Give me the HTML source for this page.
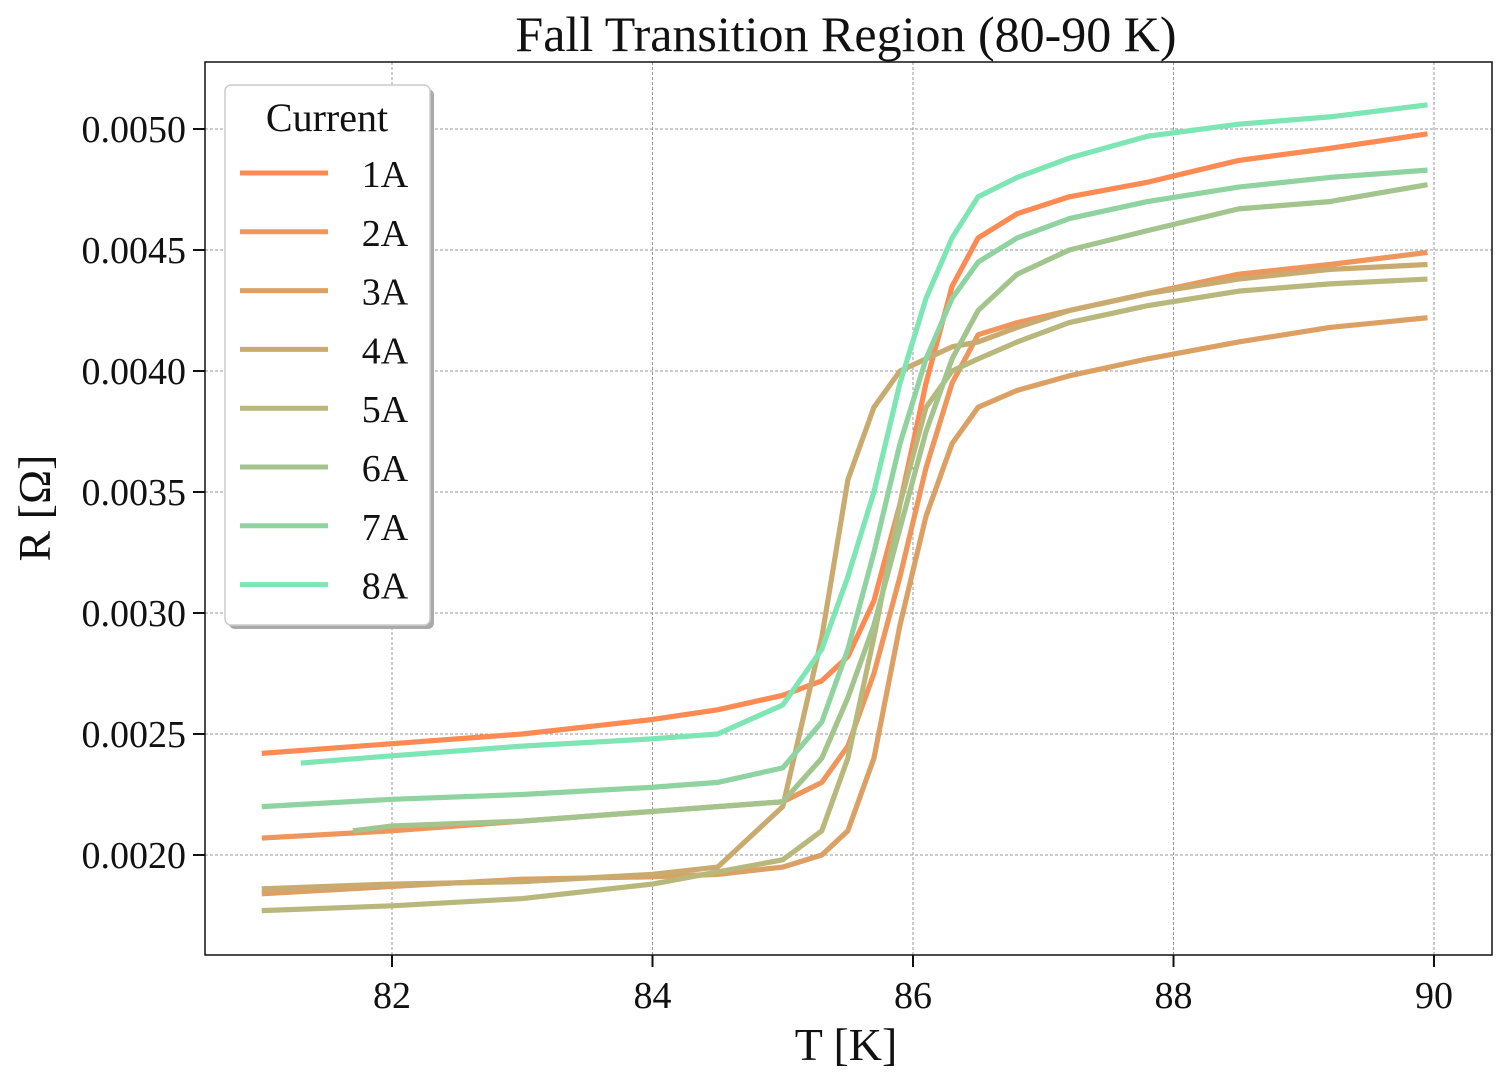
<!DOCTYPE html>
<html><head><meta charset="utf-8"><style>
body{margin:0;background:#fff;}
svg text{font-family:"Liberation Serif",serif;fill:#111;}
</style></head><body>
<svg id="chart" width="1504" height="1079" viewBox="0 0 1504 1079">
</svg>
<script>
const T = [81, 82, 83, 84, 84.5, 85, 85.3, 85.5, 85.7, 85.9, 86.1, 86.3, 86.5, 86.8, 87.2, 87.8, 88.5, 89.2, 89.95];
const seriesNames = ["1A","2A","3A","4A","5A","6A","7A","8A"];
const seriesColors = ["#fc8a52","#ee965c","#dca064","#c9ab70","#b8b87c","#a3c48c","#8fd3a0","#7ee5b4"];
const r1 = [2.42,2.46,2.50,2.56,2.60,2.66,2.72,2.82,3.05,3.45,3.95,4.35,4.55,4.65,4.72,4.78,4.87,4.92,4.98];
const r2 = [2.07,2.10,2.14,2.18,2.20,2.22,2.30,2.45,2.75,3.15,3.60,3.95,4.15,4.20,4.25,4.32,4.40,4.44,4.49];
const r3 = [1.84,1.87,1.90,1.91,1.92,1.95,2.00,2.10,2.40,2.95,3.40,3.70,3.85,3.92,3.98,4.05,4.12,4.18,4.22];
const r4 = [1.86,1.88,1.89,1.92,1.95,2.20,2.90,3.55,3.85,4.00,4.05,4.10,4.12,4.18,4.25,4.32,4.38,4.42,4.44];
const r5 = [1.77,1.79,1.82,1.88,1.93,1.98,2.10,2.40,2.90,3.45,3.85,4.00,4.05,4.12,4.20,4.27,4.33,4.36,4.38];
const r6 = [2.10,2.12,2.14,2.18,2.20,2.22,2.40,2.65,2.95,3.35,3.75,4.05,4.25,4.40,4.50,4.58,4.67,4.70,4.77];
const r7 = [2.20,2.23,2.25,2.28,2.30,2.36,2.55,2.85,3.25,3.70,4.05,4.30,4.45,4.55,4.63,4.70,4.76,4.80,4.83];
const r8 = [2.38,2.41,2.45,2.48,2.50,2.62,2.85,3.15,3.50,3.95,4.30,4.55,4.72,4.80,4.88,4.97,5.02,5.05,5.10];
const seriesStart = [81,81,81,81,81,81.7,81,81.3];
const xTicks = [82,84,86,88,90];
const yTicks = [2.0,2.5,3.0,3.5,4.0,4.5,5.0];
const yTickLabels = ["0.0020","0.0025","0.0030","0.0035","0.0040","0.0045","0.0050"];
const allSeries = [r1,r2,r3,r4,r5,r6,r7,r8];

const NS="http://www.w3.org/2000/svg";
const svg=document.getElementById('chart');
const L=205,R=1492,TOP=62,B=955;
function xs(v){return 392+(v-82)*130.25;}
function ys(v){return 855-(v-2.0)*242;}
function mk(tag,attrs,parent){const e=document.createElementNS(NS,tag);for(const k in attrs)e.setAttribute(k,attrs[k]);(parent||svg).appendChild(e);return e;}

xTicks.forEach(t=>{
  const g=mk('line',{x1:xs(t),x2:xs(t),y1:TOP,y2:B,stroke:'#999','stroke-width':1,'stroke-dasharray':'3,2'});
  
  
  const tk=mk('line',{x1:xs(t),x2:xs(t),y1:B,y2:B+12,stroke:'#111','stroke-width':2});
  
  
  const tx=mk('text',{x:xs(t),y:1008,'text-anchor':'middle','font-size':38});
  tx.textContent=t;
  
  
});
yTicks.forEach((t,i)=>{
  const g=mk('line',{x1:L,x2:R,y1:ys(t),y2:ys(t),stroke:'#999','stroke-width':1,'stroke-dasharray':'3,2'});
  
  
  const tk=mk('line',{x1:L-12,x2:L,y1:ys(t),y2:ys(t),stroke:'#111','stroke-width':2});
  
  
  const tx=mk('text',{x:186,y:ys(t)+13,'text-anchor':'end','font-size':38});
  tx.textContent=yTickLabels[i];
  
  
});

allSeries.forEach((s,i)=>{
  const pts=T.map((t,j)=>{const tt=(j===0)?seriesStart[i]:t;return xs(tt)+','+ys(s[j]);});
  const p=mk('polyline',{points:pts.join(' '),fill:'none',stroke:seriesColors[i],'stroke-width':5.2,'stroke-linejoin':'round'});
  
  
});

const fr=mk('rect',{x:L,y:TOP,width:R-L,height:B-TOP,fill:'none',stroke:'#111','stroke-width':1.5});



const ti=mk('text',{x:846,y:51,'text-anchor':'middle','font-size':50});
ti.textContent='Fall Transition Region (80-90 K)';


const xl=mk('text',{x:846,y:1060,'text-anchor':'middle','font-size':46});
xl.textContent='T [K]';


const yl=mk('text',{x:0,y:0,'text-anchor':'middle','font-size':46,transform:'translate(50,508) rotate(-90)'});
yl.textContent='R [Ω]';



const lg=mk('g',{});


mk('rect',{x:229,y:89,width:205,height:540,rx:6,fill:'#aaa'},lg);
mk('rect',{x:225,y:85,width:205,height:540,rx:6,fill:'#fff',stroke:'#ccc','stroke-width':1.5},lg);
const lt=mk('text',{x:327,y:131,'text-anchor':'middle','font-size':40},lg);
lt.textContent='Current';
seriesNames.forEach((n,i)=>{
  const y=173+i*58.8;
  const e=mk('g',{},lg);
  
  
  mk('line',{x1:240,x2:328,y1:y,y2:y,stroke:seriesColors[i],'stroke-width':5},e);
  const t=mk('text',{x:385,y:y+14,'text-anchor':'middle','font-size':38},e);
  t.textContent=n;
});
</script>
</body></html>
